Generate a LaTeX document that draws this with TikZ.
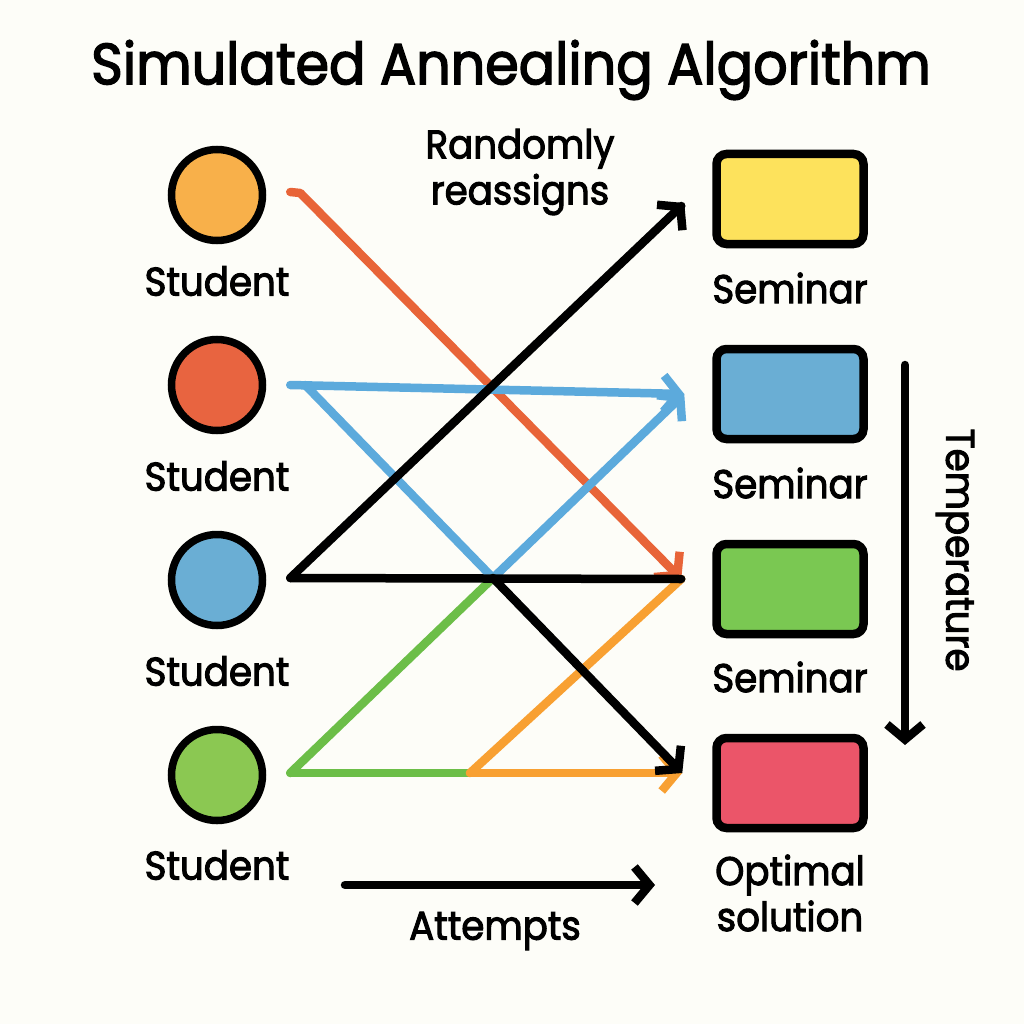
\documentclass[tikz,border=0pt]{standalone}
\usepackage{fontspec}
\setmainfont{Poppins}[FakeStretch=0.93, FakeBold=2.5]
\usepackage{tikz}
\usetikzlibrary{arrows.meta,positioning}
\usepackage{xcolor}
\definecolor{sabg}{RGB}{253,253,248}
\definecolor{saorange}{RGB}{248,176,74}
\definecolor{sared}{RGB}{232,100,64}
\definecolor{sablue}{RGB}{106,174,212}
\definecolor{sagreen}{RGB}{139,200,82}
\definecolor{sayellow}{RGB}{253,226,92}
\definecolor{sasemgreen}{RGB}{122,200,82}
\definecolor{sapink}{RGB}{235,85,105}
\definecolor{lnred}{RGB}{232,100,56}
\definecolor{lnblue}{RGB}{92,170,220}
\definecolor{lngreen}{RGB}{108,190,72}
\definecolor{lnorange}{RGB}{248,160,50}
\tikzstyle{student} = [circle, draw=black, line width=7.5pt, minimum size=91pt, inner sep=0pt]
\tikzstyle{seminar} = [rectangle, rounded corners=10pt, draw=black, line width=8.5pt, minimum width=147pt, minimum height=90pt]
\tikzstyle{link} = [line width=8.5pt, line cap=round, line join=round]
\tikzstyle{arrow} = [link, -{Straight Barb[length=15pt,width=36pt]}]
\tikzstyle{lbl} = [font=\fontsize{40}{46}\selectfont, inner sep=0pt]

\begin{document}
\begin{tikzpicture}[x=1pt, y=-1pt]
\fill[sabg] (0,0) rectangle (1024,1024);
\useasboundingbox (0,0) rectangle (1024,1024);

% Title
\node[font=\fontsize{58}{66}\selectfont, inner sep=0pt] (title) at (511,70) {Simulated Annealing Algorithm};

% Students
\node[student, fill=saorange] (s1) at (217,195) {};
\node[student, fill=sared]    (s2) at (217,385) {};
\node[student, fill=sablue]   (s3) at (217,580) {};
\node[student, fill=sagreen]  (s4) at (217,775) {};
\node[lbl] (s1lab) at (217,281) {Student};
\node[lbl] (s2lab) at (217,476) {Student};
\node[lbl] (s3lab) at (217,671) {Student};
\node[lbl] (s4lab) at (217,865) {Student};

% Seminars
\node[seminar, fill=sayellow]   (m1) at (790,199) {};
\node[seminar, fill=sablue]     (m2) at (790,394) {};
\node[seminar, fill=sasemgreen] (m3) at (790,589) {};
\node[seminar, fill=sapink]     (m4) at (790,783) {};
\node[lbl] (m1lab) at (790,288) {Seminar};
\node[lbl] (m2lab) at (790,483) {Seminar};
\node[lbl] (m3lab) at (790,677) {Seminar};
\node[lbl, align=center] (m4lab) at (790,893) {Optimal\\solution};

% Connector ends
\coordinate (s1out) at ([xshift=24pt,yshift=3pt]s1.east);
\coordinate (s2out) at ([xshift=24pt]s2.east);
\coordinate (s3out) at ([xshift=24pt,yshift=2pt]s3.east);
\coordinate (s4out) at ([xshift=24pt,yshift=2pt]s4.east);
\coordinate (m1in) at ([xshift=-28pt,yshift=-4pt]m1.west);
\coordinate (m2in) at ([xshift=-28pt]m2.west);
\coordinate (m3in) at ([xshift=-31pt,yshift=10pt]m3.west);
\coordinate (m4in) at ([xshift=-30pt,yshift=10pt]m4.west);
\coordinate (hub) at (493,578);
\coordinate (split) at (470,773);

% Reassignments
\draw[arrow, lnred] (s1out) -- ++(10,1) -- (m3in);
\draw[arrow, lnblue] (s2out) -- (m2in);
\draw[link, lnblue] ([xshift=15pt]s2out) -- (hub);
\draw[arrow, lnblue] (hub) -- (m2in);
\draw[link, lngreen] (s4out) -- (split);
\draw[link, lngreen] (s4out) -- (hub);
\draw[arrow, lnorange] (split) -- (m4in);
\draw[link, lnorange] (split) -- (m3in);
\draw[link, black] (s3out) -- (m3in);
\draw[arrow, black] (s3out) -- ([xshift=-3pt,yshift=-3pt]m1in) -- (m1in);
\draw[arrow, black] (hub) -- (m4in);

% Labels
\node[lbl, align=center] (rand) at (520,172) {Randomly\\reassigns};

% Attempts and temperature
\coordinate (att1) at (345,885);
\coordinate (att2) at (655,885);
\draw[arrow, black] (att1) -- (att2);
\node[lbl] (attlab) at (495,931) {Attempts};
\coordinate (temp1) at (905,365);
\coordinate (temp2) at (905,745);
\draw[arrow, black] (temp1) -- (temp2);
\node[lbl, rotate=-90] (templab) at (955,550) {Temperature};
\end{tikzpicture}
\end{document}
